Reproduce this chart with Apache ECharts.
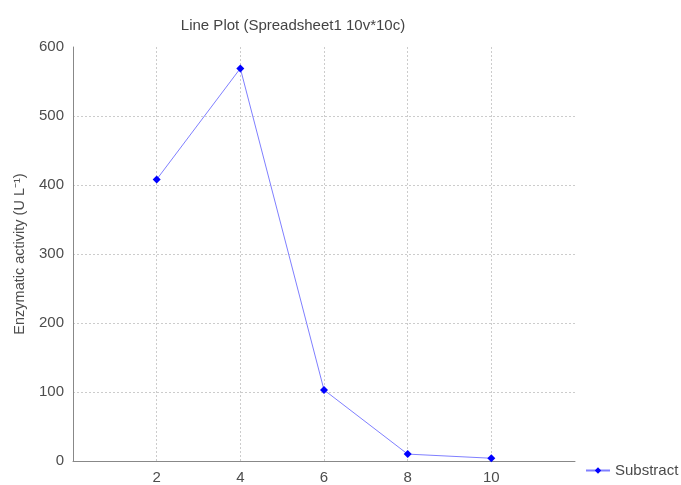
<!DOCTYPE html>
<html><head><meta charset="utf-8">
<script src="https://cdn.jsdelivr.net/npm/echarts@6/dist/echarts.min.js"></script>
<style>html,body{margin:0;padding:0;background:#fff}#c{width:681px;height:485px}</style>
</head><body><div id="c"></div>
<script>
const xValues = [2, 4, 6, 8, 10];
const substract = [408, 569, 103, 10, 4];
const seriesName = 'Substract';
const titleText = 'Line Plot (Spreadsheet1 10v*10c)';
const yAxisTitle = 'Enzymatic activity (U L\u207B\u00B9)';

const chart = echarts.init(document.getElementById('c'), null, {renderer: 'canvas'});
const font = 'Arial, "Liberation Sans", sans-serif';
chart.setOption({
  animation: false,
  backgroundColor: '#fff',
  title: {
    text: titleText, left: 288, top: 13, textAlign: 'center',
    textStyle: {fontFamily: font, fontSize: 15, fontWeight: 'normal', color: '#444'}
  },
  grid: {left: 73, right: 106, top: 47, bottom: 23, containLabel: false},
  legend: {
    left: 580, top: 458, itemWidth: 24, itemHeight: 8, itemGap: 6,
    textStyle: {fontFamily: font, fontSize: 15, color: '#4a4a4a'},
    data: [seriesName]
  },
  xAxis: {
    type: 'value', min: 0, max: 12, interval: 2,
    axisLine: {show: true, lineStyle: {color: '#888', width: 1}},
    axisTick: {show: false},
    axisLabel: {
      fontFamily: font, fontSize: 15, color: '#4d4d4d', margin: 9,
      formatter: v => (v === 0 || v === 12) ? '' : String(v)
    },
    splitLine: {show: true, showMinLine: false, showMaxLine: false,
      lineStyle: {color: '#ccc', type: [2, 2], width: 1}}
  },
  yAxis: {
    type: 'value', min: 0, max: 600, interval: 100,
    name: yAxisTitle, nameLocation: 'middle', nameGap: 46, nameRotate: 90,
    nameTextStyle: {fontFamily: font, fontSize: 14.5, color: '#4d4d4d', padding: [0, 0, 0, 0]},
    axisLine: {show: true, lineStyle: {color: '#888', width: 1}},
    axisTick: {show: false},
    axisLabel: {fontFamily: font, fontSize: 15, color: '#4d4d4d', margin: 9},
    splitLine: {show: true, showMinLine: false, showMaxLine: false,
      lineStyle: {color: '#ccc', type: [2, 2], width: 1}}
  },
  series: [{
    name: seriesName, type: 'line',
    data: xValues.map((x, i) => [x, substract[i]]),
    symbol: 'diamond', symbolSize: 8,
    lineStyle: {color: '#7f7fff', width: 1},
    itemStyle: {color: '#0000ff'}
  }]
});
</script></body></html>
